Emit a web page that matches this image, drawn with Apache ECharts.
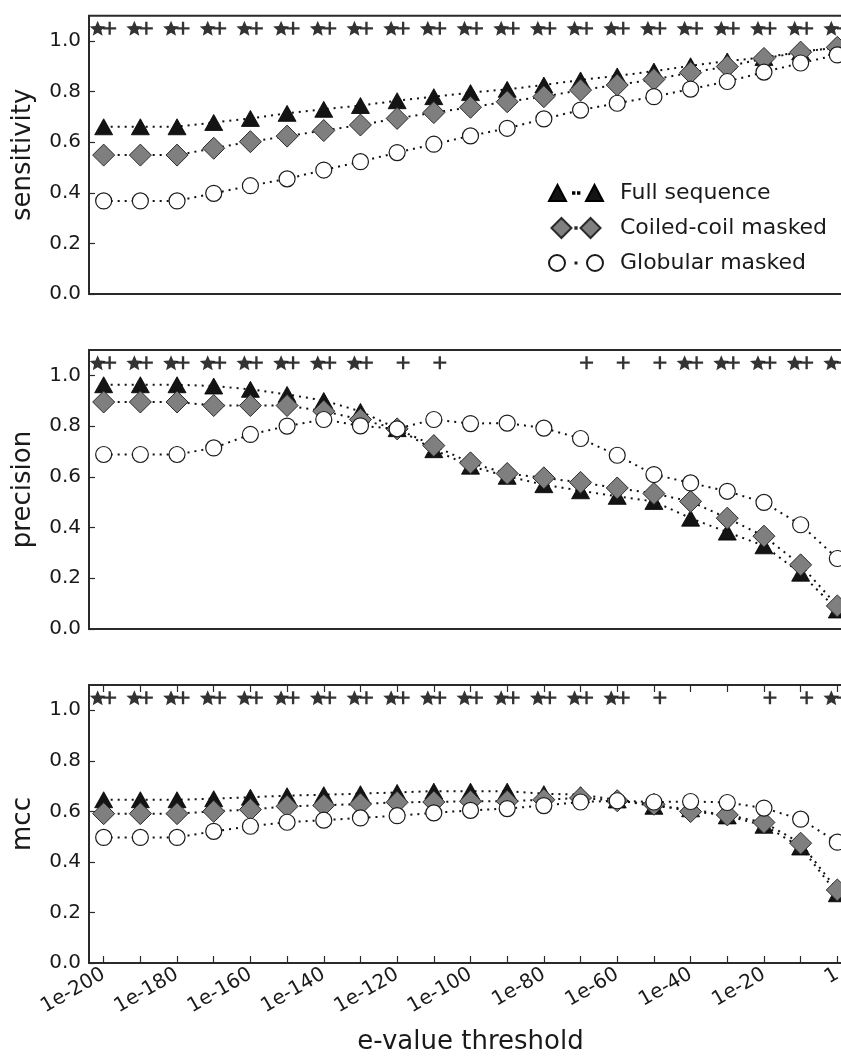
<!DOCTYPE html>
<html><head><meta charset="utf-8">
<script src="https://cdn.jsdelivr.net/npm/echarts@6/dist/echarts.min.js"></script>
<style>html,body{margin:0;padding:0;background:#fff}#c{width:841px;height:1062px}</style>
</head><body><div id="c"></div>
<script>
// ---- data ----
const exponents = [-200,-190,-180,-170,-160,-150,-140,-130,-120,-110,-100,-90,-80,-70,-60,-50,-40,-30,-20,-10,0];
const xTickValues = exponents;
const xLabelValues = [-200,-180,-160,-140,-120,-100,-80,-60,-40,-20,0];
const xLabelText = ['1e-200','1e-180','1e-160','1e-140','1e-120','1e-100','1e-80','1e-60','1e-40','1e-20','1'];
const yTickValues = [0,0.2,0.4,0.6,0.8,1.0];
const seriesNames = ['Full sequence','Coiled-coil masked','Globular masked'];
const panelNames = ['sensitivity','precision','mcc'];
const xAxisTitle = 'e-value threshold';

const sensFull     = [0.661,0.661,0.661,0.678,0.694,0.714,0.730,0.745,0.764,0.780,0.796,0.809,0.826,0.846,0.862,0.881,0.902,0.921,0.935,0.957,0.975];
const sensCoiled   = [0.549,0.549,0.549,0.576,0.602,0.624,0.646,0.668,0.694,0.717,0.738,0.760,0.780,0.806,0.826,0.848,0.875,0.899,0.931,0.956,0.975];
const sensGlobular = [0.368,0.368,0.368,0.398,0.428,0.455,0.490,0.523,0.559,0.592,0.625,0.655,0.692,0.727,0.754,0.780,0.810,0.840,0.877,0.913,0.945];

const precFull     = [0.963,0.963,0.963,0.958,0.945,0.925,0.901,0.858,0.790,0.707,0.642,0.602,0.569,0.545,0.523,0.503,0.437,0.382,0.328,0.220,0.075];
const precCoiled   = [0.895,0.895,0.895,0.881,0.881,0.881,0.859,0.826,0.789,0.723,0.655,0.613,0.596,0.578,0.556,0.534,0.503,0.437,0.366,0.253,0.091];
const precGlobular = [0.688,0.688,0.688,0.714,0.767,0.800,0.826,0.801,0.789,0.826,0.810,0.812,0.792,0.751,0.685,0.609,0.576,0.543,0.499,0.411,0.278];

const mccFull      = [0.646,0.646,0.646,0.650,0.656,0.662,0.666,0.670,0.675,0.680,0.680,0.680,0.670,0.666,0.645,0.620,0.610,0.582,0.545,0.459,0.274];
const mccCoiled    = [0.591,0.591,0.591,0.600,0.607,0.620,0.624,0.629,0.636,0.637,0.640,0.640,0.646,0.653,0.642,0.628,0.599,0.586,0.556,0.474,0.289];
const mccGlobular  = [0.497,0.497,0.497,0.521,0.541,0.557,0.565,0.574,0.583,0.594,0.604,0.611,0.623,0.637,0.642,0.637,0.639,0.635,0.613,0.569,0.478];

// significance markers (exponent positions)
const sigLevel = 1.05;
const sensStar = [-200,-190,-180,-170,-160,-150,-140,-130,-120,-110,-100,-90,-80,-70,-60,-50,-40,-30,-20,-10,0];
const sensPlus = [-200,-190,-180,-170,-160,-150,-140,-130,-120,-110,-100,-90,-80,-70,-60,-50,-40,-30,-20,-10,0];
const precStar = [-200,-190,-180,-170,-160,-150,-140,-130,-40,-30,-20,-10,0];
const precPlus = [-200,-190,-180,-170,-160,-150,-140,-130,-120,-110,-70,-60,-50,-40,-30,-20,-10,0];
const mccStar  = [-200,-190,-180,-170,-160,-150,-140,-130,-120,-110,-100,-90,-80,-70,-60,0];
const mccPlus  = [-200,-190,-180,-170,-160,-150,-140,-130,-120,-110,-100,-90,-80,-70,-60,-50,-20,-10,0];

// ---- build ----
const FONT = 'DejaVu Sans';
const TXT = '#1a1a1a';
const STAR = 'path://M50,0 L63.23,31.8 L97.55,34.55 L71.4,56.95 L79.39,90.45 L50,72.5 L20.61,90.45 L28.6,56.95 L2.45,34.55 L36.77,31.8 Z';
const PLUS = 'path://M41,0 H59 V41 H100 V59 H59 V100 H41 V59 H0 V41 H41 Z';

const panels = [
  {vals:[sensFull,sensCoiled,sensGlobular], star:sensStar, plus:sensPlus, top:15.7, height:278.3},
  {vals:[precFull,precCoiled,precGlobular], star:precStar, plus:precPlus, top:350, height:279},
  {vals:[mccFull,mccCoiled,mccGlobular], star:mccStar, plus:mccPlus, top:685, height:278}
];

const styles = [
  {symbol:'triangle', symbolSize:[18,16], itemStyle:{color:'#141414', borderColor:'#000', borderWidth:0.8}},
  {symbol:'diamond', symbolSize:[22,22], itemStyle:{color:'#7f7f7f', borderColor:'#2b2b2b', borderWidth:1}},
  {symbol:'circle', symbolSize:16, itemStyle:{color:'#ffffff', borderColor:'#1a1a1a', borderWidth:1.2}}
];

const grids = [], xAxes = [], yAxes = [], series = [];
const labelMap = {};
xLabelValues.forEach((v,i)=>labelMap[v]=xLabelText[i]);

panels.forEach((p, i) => {
  grids.push({left:89, top:p.top, width:763, height:p.height, show:true,
    outerBoundsMode:'none', containLabel:false,
    borderColor:'#2a2a2a', borderWidth:2, backgroundColor:'transparent'});
  const isBottom = i === 2;
  xAxes.push({
    type:'value', gridIndex:i, min:-204, max:4, position:'bottom',
    axisLine:{show:false, onZero:false}, splitLine:{show:false},
    axisTick:{show:isBottom, inside:true, length:7, customValues:xTickValues, lineStyle:{color:'#2a2a2a', width:1.2}},
    axisLabel:{show:isBottom, customValues:xLabelValues, rotate:30, margin:10,
      fontFamily:FONT, fontSize:20, color:TXT, formatter:v=>labelMap[v] !== undefined ? labelMap[v] : ''},
    name: isBottom ? xAxisTitle : '', nameLocation:'middle', nameGap:66,
    nameTextStyle:{fontFamily:FONT, fontSize:26, color:TXT}
  });
  yAxes.push({
    type:'value', gridIndex:i, min:0, max:1.1, interval:0.2, position:'left',
    axisLine:{show:false, onZero:false}, splitLine:{show:false},
    axisTick:{show:true, inside:true, length:6, lineStyle:{color:'#2a2a2a', width:1.2}},
    axisLabel:{showMaxLabel:false, margin:8, fontFamily:FONT, fontSize:20, color:TXT,
      formatter:v=>(v > 1.05 ? '' : v.toFixed(1))},
    name:panelNames[i], nameLocation:'middle', nameGap:53,
    nameTextStyle:{fontFamily:FONT, fontSize:26, color:TXT}
  });
  p.vals.forEach((arr, k) => {
    series.push(Object.assign({
      name:seriesNames[k], type:'line', xAxisIndex:i, yAxisIndex:i,
      data:exponents.map((x,j)=>[x, arr[j]]),
      lineStyle:{color:'#111', width:2, type:[2,5]},
      emphasis:{disabled:true}, animation:false, clip:false, z:2+k
    }, styles[k]));
  });
  series.push({name:'sigStar'+i, type:'scatter', xAxisIndex:i, yAxisIndex:i,
    data:p.star.map(x=>[x, sigLevel]), symbol:STAR, symbolSize:[16,15], symbolOffset:[-6,0],
    itemStyle:{color:'#000000'}, emphasis:{disabled:true}, animation:false, z:6});
  series.push({name:'sigPlus'+i, type:'scatter', xAxisIndex:i, yAxisIndex:i,
    data:p.plus.map(x=>[x, sigLevel]), symbol:PLUS, symbolSize:13, symbolOffset:[6,0],
    itemStyle:{color:'#000000'}, emphasis:{disabled:true}, animation:false, z:6});
});

// top axis with ticks for bottom panel
xAxes.push({
  type:'value', gridIndex:2, min:-204, max:4, position:'top',
  axisLine:{show:false, onZero:false}, splitLine:{show:false},
  axisTick:{show:true, inside:true, length:7, customValues:xTickValues, lineStyle:{color:'#2a2a2a', width:1.2}},
  axisLabel:{show:false}
});

const legendIcons = [
  'path://M0,20 L8.5,4 L17,20 Z M37,20 L45.5,4 L54,20 Z M24,11.3 h1.4 v1.4 h-1.4 Z M29,11.3 h1.4 v1.4 h-1.4 Z',
  'path://M0,11 L11,0 L22,11 L11,22 Z M32,11 L43,0 L54,11 L43,22 Z M26.3,10.3 h1.4 v1.4 h-1.4 Z',
  'path://M0,11 A8,8 0 1 1 16,11 A8,8 0 1 1 0,11 Z M38,11 A8,8 0 1 1 54,11 A8,8 0 1 1 38,11 Z M26.5,10.5 h1 v1 h-1 Z'
];

const option = {
  backgroundColor:'#ffffff',
  animation:false,
  grid:grids, xAxis:xAxes, yAxis:yAxes, series:series,
  legend:{
    show:true, orient:'vertical', left:543, top:177, selectedMode:false,
    itemWidth:54, itemHeight:20, itemGap:13,
    data:seriesNames.map((n,k)=>({name:n, icon:legendIcons[k]})),
    textStyle:{fontFamily:FONT, fontSize:22, color:TXT, padding:[0,0,0,12]}
  }
};
const chart = echarts.init(document.getElementById('c'), null, {renderer:'canvas'});
chart.setOption(option);
</script></body></html>
